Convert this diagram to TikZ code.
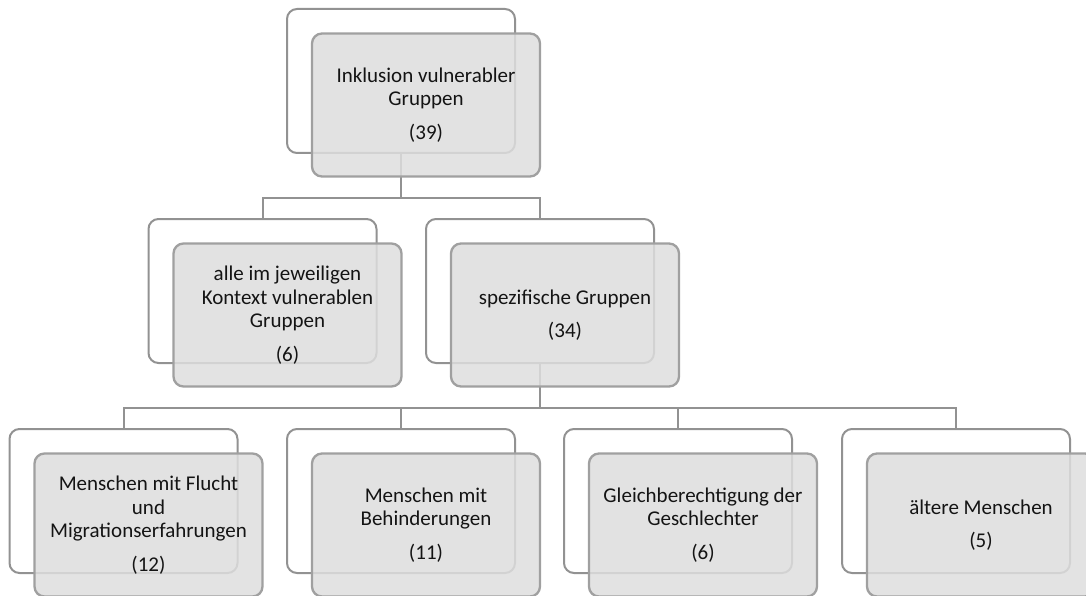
\documentclass[tikz,border=0pt]{standalone}
\usepackage{fontspec}
\setmainfont{Carlito}
\usetikzlibrary{calc}
\definecolor{framegray}{RGB}{146,146,146}
\definecolor{boxborder}{RGB}{160,160,160}
\definecolor{boxfill}{RGB}{222,222,222}
\definecolor{linkgray}{RGB}{146,146,146}
\definecolor{txt}{RGB}{20,20,20}
\tikzset{
  backframe/.style={draw=framegray, line width=2pt, fill=white, rounded corners=10pt,
    minimum width=228pt, minimum height=144pt, inner sep=0pt},
  frontbox/.style={draw=boxborder, line width=2.3pt, fill=boxfill, fill opacity=0.85,
    text opacity=1, rounded corners=10pt, minimum width=228pt, minimum height=143pt,
    inner sep=0pt, align=center, text=txt, font=\fontsize{21}{23.5}\selectfont},
  link/.style={draw=linkgray, line width=2pt},
}
\begin{document}
\begin{tikzpicture}[x=1pt, y=-1pt]
\useasboundingbox (0,0) rectangle (1086,596);
\clip (0,0) rectangle (1086,596);

% back frames
\node[backframe] (b0) at (401,81) {};
\node[backframe] (b1) at (262.5,291) {};
\node[backframe] (b2) at (540,291) {};
\node[backframe] (b3) at (123.5,501) {};
\node[backframe] (b4) at (401,501) {};
\node[backframe] (b5) at (678,501) {};
\node[backframe] (b6) at (956,501) {};

% connector levels
\coordinate (h1) at (0,198);
\coordinate (h2) at (0,408);

\draw[link] (b0.south) |- (b1.north |- h1) -- (b1.north);
\draw[link] (b0.south) |- (b2.north |- h1) -- (b2.north);
\foreach \k in {b3,b4,b5,b6}{
  \draw[link] (b2.south) |- (\k.north |- h2) -- (\k.north);
}

% front boxes with the labels
\node[frontbox] (f0) at ($(b0)+(25,24)$) {Inklusion vulnerabler\\Gruppen\\[10pt](39)};
\node[frontbox] (f1) at ($(b1)+(25,24)$) {alle im jeweiligen\\Kontext vulnerablen\\Gruppen\\[10pt](6)};
\node[frontbox] (f2) at ($(b2)+(25,24)$) {spezifische Gruppen\\[10pt](34)};
\node[frontbox] (f3) at ($(b3)+(25,24)$) {Menschen mit Flucht\\und\\Migrationserfahrungen\\[10pt](12)};
\node[frontbox] (f4) at ($(b4)+(25,24)$) {Menschen mit\\Behinderungen\\[10pt](11)};
\node[frontbox] (f5) at ($(b5)+(25,24)$) {Gleichberechtigung der\\Geschlechter\\[10pt](6)};
\node[frontbox] (f6) at ($(b6)+(25,24)$) {ältere Menschen\\[10pt](5)};
\end{tikzpicture}
\end{document}
